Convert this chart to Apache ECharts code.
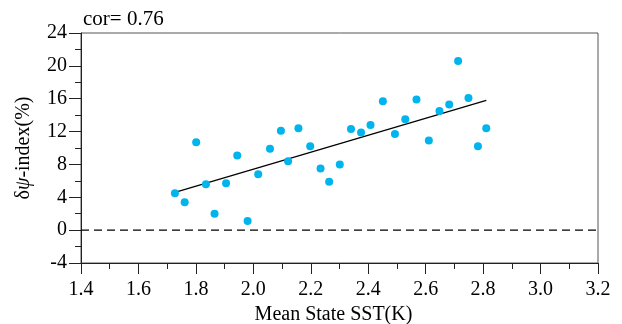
<!DOCTYPE html>
<html>
<head>
<meta charset="utf-8">
<script src="https://cdn.jsdelivr.net/npm/echarts@6/dist/echarts.min.js"></script>
<style>
  html, body { margin: 0; padding: 0; background: #fff; }
  #chart { width: 622px; height: 324px; }
</style>
</head>
<body>
<div id="chart"></div>
<script>
// mean state SST (K) for each model
const sstValues = [
  1.727, 1.761, 1.801, 1.835, 1.865, 1.905, 1.944, 1.980, 2.017, 2.058,
  2.096, 2.121, 2.157, 2.198, 2.234, 2.264, 2.301, 2.340, 2.375, 2.408,
  2.451, 2.493, 2.529, 2.568, 2.611, 2.648, 2.682, 2.713, 2.749, 2.782, 2.811
];
// δψ-index (%) for each model
const indexValues = [
  4.5, 3.4, 10.7, 5.6, 2.0, 5.7, 9.1, 1.1, 6.8, 9.9,
  12.1, 8.4, 12.4, 10.2, 7.5, 5.9, 8.0, 12.3, 11.9, 12.8,
  15.7, 11.7, 13.5, 15.9, 10.9, 14.5, 15.3, 20.6, 16.1, 10.2, 12.4
];
// end points of the fitted line
const fitX = [1.727, 2.811];
const fitY = [4.6, 15.8];

const FONT = '"Liberation Serif", "Times New Roman", serif';

const scatterData = sstValues.map((x, i) => [x, indexValues[i]]);
const fitData = fitX.map((x, i) => [x, fitY[i]]);

const chart = echarts.init(document.getElementById('chart'), null, { renderer: 'canvas' });

const option = {
  animation: false,
  backgroundColor: '#fff',
  title: {
    text: 'cor= 0.76',
    left: 78,
    top: 4,
    textStyle: { fontFamily: FONT, fontSize: 21, fontWeight: 'normal', color: '#000' }
  },
  grid: {
    left: 81,
    right: 24,
    top: 33,
    bottom: 61,
    outerBoundsMode: 'none',
    containLabel: false,
    show: true,
    borderColor: '#555',
    borderWidth: 1
  },
  xAxis: {
    type: 'value',
    min: 1.4,
    max: 3.2,
    interval: 0.2,
    name: 'Mean State SST(K)',
    nameLocation: 'middle',
    nameGap: 40,
    nameTextStyle: { fontFamily: FONT, fontSize: 20, color: '#000', padding: [0, 12, 0, 0] },
    axisLine: { show: true, onZero: false, lineStyle: { color: '#222', width: 1 } },
    axisTick: { show: true, inside: false, length: 11, lineStyle: { color: '#222' } },
    minorTick: { show: true, splitNumber: 2, length: 6, lineStyle: { color: '#222' } },
    splitLine: { show: false },
    axisLabel: {
      margin: 17,
      fontFamily: FONT,
      fontSize: 20,
      color: '#000',
      formatter: (v) => v.toFixed(1)
    }
  },
  yAxis: {
    type: 'value',
    min: -4,
    max: 24,
    interval: 4,
    name: '{a|δ}{b|ψ}{a|-index(%)}',
    nameLocation: 'middle',
    nameGap: 47,
    nameTextStyle: {
      fontFamily: FONT,
      fontSize: 20,
      color: '#000',
      rich: {
        a: { fontFamily: FONT, fontSize: 20, color: '#000' },
        b: { fontFamily: FONT, fontSize: 20, fontStyle: 'italic', color: '#000' }
      }
    },
    axisLine: { show: true, onZero: false, lineStyle: { color: '#222', width: 1 } },
    axisTick: { show: true, inside: false, length: 12, lineStyle: { color: '#222' } },
    minorTick: { show: true, splitNumber: 2, length: 6, lineStyle: { color: '#222' } },
    splitLine: { show: false },
    axisLabel: {
      margin: 14,
      fontFamily: FONT,
      fontSize: 20,
      color: '#000'
    }
  },
  series: [
    {
      name: 'zero',
      type: 'line',
      data: [[1.4, 0], [3.2, 0]],
      symbol: 'none',
      silent: true,
      lineStyle: { color: '#000', width: 1.4, type: [8, 5] },
      z: 1
    },
    {
      name: 'fit',
      type: 'line',
      data: fitData,
      symbol: 'none',
      silent: true,
      lineStyle: { color: '#000', width: 1.2 },
      z: 2
    },
    {
      name: 'models',
      type: 'scatter',
      data: scatterData,
      symbol: 'circle',
      symbolSize: 8,
      itemStyle: { color: '#00b4ee', opacity: 1 },
      z: 3
    }
  ]
};

chart.setOption(option);
</script>
</body>
</html>
